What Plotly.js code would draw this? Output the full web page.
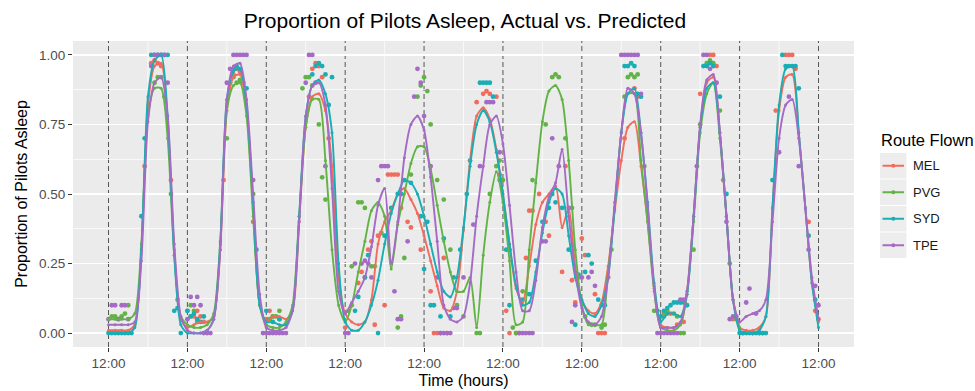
<!DOCTYPE html>
<html>
<head>
<meta charset="utf-8">
<script src="https://cdn.plot.ly/plotly-3.0.1.min.js"></script>
<style>
html,body{margin:0;padding:0;background:#ffffff;}
#chart{width:975px;height:391px;}
</style>
</head>
<body>
<div id="chart"></div>
<script>
// ---------------- DATA ----------------
const routes = ['MEL', 'PVG', 'SYD', 'TPE'];
const routeColors = ['#F06C5E', '#62B346', '#17AEB4', '#A46AC6'];

// predicted values, every 2 hours
const predHours = [0,2,4,6,8,10,12,14,16,18,20,22,24,26,28,30,32,34,36,38,40,42,44,46,
  48,50,52,54,56,58,60,62,64,66,68,70,72,74,76,78,80,82,84,86,88,90,92,94,
  96,98,100,102,104,106,108,110,112,114,116,118,120,122,124,126,128,130,132,134,136,138,140,142,
  144,146,148,150,152,154,156,158,160,162,164,166,168,170,172,174,176,178,180,182,184,186,188,190,
  192,194,196,198,200,202,204,206,208,210,212,214,216];

const predMEL = [
  0.01,0.01,0.01,0.01,0.03,0.3,0.82,0.96,0.97,0.76,0.3,0.05,
  0.02,0.03,0.04,0.04,0.06,0.3,0.8,0.92,0.93,0.8,0.45,0.1,
  0.04,0.06,0.06,0.05,0.08,0.4,0.74,0.85,0.86,0.8,0.6,0.2,
  0.07,0.04,0.03,0.04,0.12,0.32,0.4,0.44,0.5,0.52,0.48,0.43,
  0.35,0.26,0.17,0.09,0.08,0.15,0.37,0.62,0.78,0.81,0.77,0.66,
  0.5,0.32,0.16,0.11,0.24,0.39,0.47,0.5,0.53,0.38,0.45,0.24,
  0.12,0.08,0.07,0.11,0.24,0.44,0.62,0.74,0.76,0.6,0.4,0.17,
  0.03,0.02,0.02,0.03,0.15,0.42,0.74,0.9,0.92,0.72,0.42,0.12,
  0.02,0.01,0.01,0.02,0.06,0.45,0.8,0.92,0.93,0.72,0.45,0.18,
  0.04];

const predPVG = [
  0.05,0.05,0.05,0.05,0.07,0.32,0.78,0.88,0.88,0.7,0.28,0.06,
  0.03,0.02,0.02,0.03,0.07,0.33,0.8,0.89,0.9,0.78,0.42,0.1,
  0.03,0.02,0.02,0.04,0.1,0.42,0.74,0.84,0.84,0.62,0.3,0.1,
  0.04,0.1,0.22,0.33,0.44,0.47,0.42,0.23,0.39,0.5,0.61,0.67,
  0.67,0.59,0.46,0.33,0.22,0.15,0.15,0.2,0.02,0.28,0.47,0.58,
  0.47,0.26,0.03,0.04,0.3,0.54,0.76,0.87,0.89,0.84,0.62,0.3,
  0.1,0.03,0.03,0.03,0.22,0.45,0.72,0.86,0.86,0.62,0.4,0.15,
  0.02,0.01,0.01,0.03,0.14,0.4,0.72,0.86,0.9,0.7,0.42,0.12,
  0.02];

const predSYD = [
  0.0,0.0,0.0,0.0,0.02,0.3,0.85,0.98,1.0,0.78,0.28,0.03,
  0.0,0.0,0.0,0.01,0.05,0.32,0.84,0.94,0.95,0.82,0.47,0.1,
  0.04,0.04,0.03,0.03,0.08,0.42,0.78,0.89,0.91,0.86,0.72,0.25,
  0.04,0.01,0.01,0.04,0.1,0.19,0.32,0.43,0.5,0.55,0.54,0.5,
  0.42,0.32,0.22,0.15,0.13,0.2,0.38,0.6,0.75,0.8,0.76,0.65,
  0.5,0.32,0.17,0.1,0.11,0.22,0.36,0.47,0.52,0.5,0.35,0.2,
  0.12,0.07,0.06,0.1,0.2,0.45,0.72,0.86,0.88,0.72,0.47,0.18,
  0.04,0.07,0.07,0.06,0.14,0.42,0.74,0.88,0.9,0.72,0.42,0.12,
  0.01,0.0,0.0,0.01,0.06,0.45,0.82,0.95,0.96,0.72,0.45,0.18,
  0.02];

const predTPE = [
  0.03,0.03,0.03,0.03,0.04,0.26,0.76,0.9,0.92,0.78,0.32,0.06,
  0.01,0.0,0.0,0.01,0.05,0.3,0.84,0.96,0.97,0.84,0.5,0.14,
  0.02,0.01,0.01,0.02,0.08,0.4,0.78,0.89,0.9,0.82,0.52,0.15,
  0.07,0.11,0.15,0.2,0.31,0.46,0.52,0.25,0.4,0.63,0.75,0.78,
  0.73,0.56,0.33,0.1,0.05,0.04,0.06,0.18,0.42,0.6,0.75,0.78,
  0.68,0.46,0.22,0.08,0.08,0.19,0.38,0.49,0.54,0.66,0.42,0.22,
  0.09,0.04,0.03,0.06,0.2,0.47,0.72,0.88,0.86,0.72,0.46,0.16,
  0.02,0.02,0.02,0.04,0.15,0.42,0.75,0.91,0.93,0.72,0.42,0.12,
  0.04,0.06,0.07,0.08,0.12,0.4,0.7,0.82,0.84,0.7,0.45,0.2,
  0.05];

// actual observations [hour, proportion]
const actMEL = [[11,0.6],[13,0.97],[14,0.98],[15,0.97],[16,0.96],[19,0.55],[21,0.12],
  [25,0.06],[26,0.06],[27,0.08],[28,0.06],[29,0.04],[35,0.55],[38,0.93],[39,0.95],[40,0.94],[41,0.9],[44,0.4],
  [48,0.05],[49,0.08],[50,0.06],[52,0.05],[61,0.85],[62,0.95],[63,0.97],[64,0.96],[65,0.92],[67,0.7],
  [72,0.02],[74,0.1],[76,0.18],[77,0.22],[78,0.2],[79,0.3],[80,0.33],[81,0.03],[82,0.35],[84,0.1],
  [85,0.57],[86,0.57],[87,0.57],[88,0.57],[89,0.45],[91,0.4],[92,0.38],[95,0.3],[98,0.15],[99,0.0],[100,0.0],[101,0.0],[102,0.27],[103,0.0],
  [112,0.83],[114,0.86],[115,0.87],[116,0.86],[118,0.85],[119,0.57],[121,0.08],[122,0.0],[124,0.0],[125,0.0],
  [127,0.27],[128,0.44],[129,0.44],[131,0.5],[133,0.4],[134,0.35],
  [138,0.22],[139,0.6],[141,0.19],[142,0.11],[144,0.34],[145,0.28],[148,0.14],[149,0.0],[150,0.0],[151,0.0],[152,0.2],[157,0.7],[160,0.88],[161,0.85],
  [169,0.07],[170,0.07],[171,0.07],[173,0.03],[175,0.04],[180,0.86],[183,1.0],[184,1.0],[185,0.96],[187,0.55],[190,0.05],
  [193,0.0],[196,0.0],[198,0.0],[199,0.0],[203,0.8],[206,1.0],[207,1.0],[208,1.0],[209,0.95],[213,0.4],[215,0.08],[216,0.05]];

const actPVG = [[1,0.06],[2,0.06],[3,0.05],[4,0.06],[5,0.07],[6,0.1],[14,0.9],[15,0.92],[16,0.92],[17,0.85],[19,0.5],
  [24,0.08],[25,0.1],[26,0.08],[27,0.04],[36,0.7],[38,0.92],[39,0.9],[40,0.91],[44,0.5],
  [49,0.05],[50,0.06],[51,0.06],[52,0.08],[59,0.88],[60,0.92],[61,0.92],[62,0.89],[64,0.75],[65,0.56],[66,0.48],
  [73,0.08],[74,0.24],[76,0.47],[77,0.47],[78,0.45],[80,0.24],[81,0.24],[83,0.36],[88,0.02],[89,0.06],[90,0.27],[92,0.57],
  [94,0.85],[95,0.89],[96,0.92],[97,0.87],[98,0.75],[100,0.55],[102,0.48],[104,0.3],[106,0.1],[108,0.06],
  [112,0.0],[113,0.0],[116,0.5],[118,0.6],[119,0.62],[120,0.55],[123,0.02],[124,0.0],[126,0.15],[129,0.55],[133,0.75],[135,0.92],[136,0.93],[137,0.92],
  [139,0.7],[141,0.45],[143,0.2],[145,0.06],[147,0.03],[148,0.03],[150,0.02],[151,0.03],[153,0.3],[157,0.85],[158,0.92],[159,0.93],[160,0.92],[161,0.93],[163,0.6],
  [166,0.08],[169,0.06],[170,0.08],[172,0.07],[173,0.06],[174,0.0],[175,0.0],
  [178,0.3],[180,0.75],[182,0.97],[183,0.98],[184,0.97],[186,0.8],[189,0.25],[191,0.05]];

const actSYD = [[0,0],[1,0],[2,0],[3,0],[4,0],[5,0],[6,0],[7,0],[10,0.42],[11,0.7],[13,1.0],[14,1.0],[15,1.0],[16,1.0],[17,1.0],[18,1.0],[20,0.08],[21,0.09],[22,0.0],
  [24,0.08],[25,0.06],[26,0.07],[27,0.05],[28,0.04],[29,0.06],[37,0.9],[38,0.95],[39,0.96],[40,0.95],[42,0.88],[45,0.3],
  [48,0.08],[50,0.04],[52,0.05],[62,0.93],[63,0.96],[64,0.97],[65,0.96],[66,0.93],[67,0.82],
  [68,0.92],[75,0.08],[76,0.13],[78,0.2],[79,0.28],[82,0.0],[84,0.35],[86,0.45],[88,0.5],[89,0.5],[90,0.55],[92,0.54],[95,0.42],[96,0.23],[97,0.4],[98,0.1],[99,0.1],
  [101,0.06],[102,0.34],[104,0.06],[105,0.2],[107,0.3],[109,0.5],[110,0.62],[113,0.9],[114,0.9],[115,0.9],[116,0.9],[117,0.85],[119,0.55],[121,0.3],[122,0.1],
  [126,0.12],[128,0.14],[130,0.26],[132,0.4],[134,0.45],[135,0.5],[136,0.47],
  [138,0.45],[140,0.3],[142,0.03],[143,0.21],[145,0.22],[146,0.28],[147,0.25],[149,0.12],[151,0.1],[157,0.96],[158,0.96],[159,0.97],[160,0.96],[161,0.86],[162,0.85],
  [167,0.08],[168,0.06],[169,0.08],[170,0.09],[171,0.1],[172,0.11],[173,0.11],[174,0.11],[175,0.11],[176,0.1],
  [181,0.96],[182,0.96],[183,0.97],[184,0.96],[186,0.85],[188,0.5],
  [192,0.0],[193,0.0],[194,0.0],[195,0.0],[196,0.0],[197,0.0],[198,0.0],[199,0.0],[200,0.0],
  [202,0.55],[205,1.0],[206,0.96],[207,0.96],[208,0.96],[209,0.96],[210,0.88],[213,0.35],[215,0.12]];

const actTPE = [[0,0.05],[1,0.1],[2,0.1],[3,0.05],[4,0.1],[5,0.1],[6,0.05],[13,0.96],[14,1.0],[15,1.0],[16,1.0],[17,1.0],[18,0.9],
  [24,0.05],[25,0.13],[26,0.1],[27,0.13],[28,0.1],[29,0.0],[30,0.0],[31,0.0],
  [36,0.9],[37,0.95],[38,1.0],[39,1.0],[40,1.0],[41,1.0],[42,1.0],[44,0.55],
  [47,0.0],[48,0.0],[49,0.0],[50,0.0],[51,0.0],[52,0.0],[53,0.0],[54,0.0],[60,0.9],[61,1.0],[62,1.0],[63,0.9],[66,0.6],
  [72,0.0],[73,0.0],[75,0.25],[77,0.25],[78,0.26],[79,0.25],[80,0.2],[82,0.55],[83,0.6],[84,0.6],[85,0.6],[87,0.15],[88,0.05],[89,0.05],
  [91,0.33],[93,0.85],[94,0.95],[95,0.9],[96,0.78],[98,0.6],[100,0.2],[101,0.0],[102,0.0],[103,0.0],[104,0.0],[105,0.09],[106,0.09],
  [108,0.2],[111,0.39],[113,0.6],[115,0.83],[116,0.83],[117,0.83],[119,0.65],[122,0.3],[125,0.0],[126,0.0],[127,0.0],[128,0.0],[129,0.0],
  [132,0.33],[133,0.33],[135,0.7],[137,0.6],
  [140,0.45],[141,0.04],[142,0.1],[144,0.2],[146,0.2],[147,0.22],[148,0.17],[150,0.1],[156,1.0],[157,1.0],[158,1.0],[159,1.0],[160,1.0],[161,1.0],[162,0.86],
  [167,0.0],[168,0.0],[169,0.0],[170,0.0],[171,0.0],[172,0.0],[173,0.0],[174,0.12],[175,0.12],
  [179,0.6],[181,1.0],[182,1.0],[183,0.95],[185,0.9],[188,0.4],
  [189,0.05],[190,0.06],[191,0.06],[194,0.11],[195,0.16],[197,0.07],
  [204,0.65],[207,0.85],[210,0.6],[213,0.3],[215,0.17],[216,0.1]];

const tickHours = [0,24,48,72,96,120,144,168,192,216];
const tickText = ['12:00','12:00','12:00','12:00','12:00','12:00','12:00','12:00','12:00','12:00'];
const midnightHours = [12,36,60,84,108,132,156,180,204];
const yTicks = [0,0.25,0.5,0.75,1];
const yTickText = ['0.00','0.25','0.50','0.75','1.00'];
const yMinor = [0.125,0.375,0.625,0.875];

// ---------------- CHART ----------------
const FONT = 'Liberation Sans, Arial, Helvetica, sans-serif';
const M = {l:73, r:121, t:41, b:44};
const W = 975, H = 391;
const PW = W - M.l - M.r, PH = H - M.t - M.b;
const px2x = px => (px - M.l) / PW;
const py2y = py => (H - M.b - py) / PH;

const preds = [predMEL, predPVG, predSYD, predTPE];
const acts = [actMEL, actPVG, actSYD, actTPE];

const traces = [];
routes.forEach((r, i) => {
  traces.push({
    type: 'scatter', mode: 'markers', name: r + ' actual', showlegend: false,
    x: acts[i].map(p => p[0]), y: acts[i].map(p => p[1]),
    marker: {color: routeColors[i], size: 4.8, line: {width: 0}},
    hoverinfo: 'skip'
  });
});
routes.forEach((r, i) => {
  traces.push({
    type: 'scatter', mode: 'lines+markers', name: r, showlegend: false,
    x: predHours.slice(0, preds[i].length), y: preds[i],
    line: {color: routeColors[i], width: 1.9, shape: 'spline', smoothing: 0.7},
    marker: {color: routeColors[i], size: 3},
    hoverinfo: 'skip'
  });
});

const shapes = [];
midnightHours.forEach(h => shapes.push({
  type: 'line', xref: 'x', yref: 'paper', x0: h, x1: h, y0: 0, y1: 1,
  layer: 'below', line: {color: '#ffffff', width: 0.7}
}));
tickHours.forEach(h => shapes.push({
  type: 'line', xref: 'x', yref: 'paper', x0: h, x1: h, y0: 0, y1: 1,
  layer: 'between', line: {color: '#555555', width: 1, dash: '5px,3px'}
}));

// legend (ggplot style)
const annotations = [];
annotations.push({
  xref: 'paper', yref: 'paper', x: px2x(879), y: py2y(140), xanchor: 'left', yanchor: 'middle',
  text: 'Route Flown', showarrow: false, font: {family: FONT, size: 16.5, color: '#000'}
});
routes.forEach((r, i) => {
  const top = 153 + i * 26.5, bot = top + 25.5, cy = top + 12.75;
  shapes.push({type: 'rect', xref: 'paper', yref: 'paper', x0: px2x(880), x1: px2x(906.5),
    y0: py2y(bot), y1: py2y(top), fillcolor: '#EDEDED', line: {width: 0}, layer: 'above'});
  shapes.push({type: 'line', xref: 'paper', yref: 'paper', x0: px2x(882.5), x1: px2x(904),
    y0: py2y(cy), y1: py2y(cy), line: {color: routeColors[i], width: 2}, layer: 'above'});
  shapes.push({type: 'circle', xref: 'paper', yref: 'paper', x0: px2x(891.3), x1: px2x(895.3),
    y0: py2y(cy + 2), y1: py2y(cy - 2), fillcolor: routeColors[i], line: {width: 0}, layer: 'above'});
  annotations.push({
    xref: 'paper', yref: 'paper', x: px2x(910.5), y: py2y(cy), xanchor: 'left', yanchor: 'middle',
    text: r, showarrow: false, font: {family: FONT, size: 13, color: '#1A1A1A'}
  });
});

const layout = {
  width: W, height: H,
  margin: M,
  paper_bgcolor: '#ffffff', plot_bgcolor: '#EBEBEB',
  font: {family: FONT, color: '#000'},
  showlegend: false,
  title: {text: 'Proportion of Pilots Asleep, Actual vs. Predicted', font: {family: FONT, size: 21, color: '#000'},
    x: px2x(465), xref: 'paper', xanchor: 'center', y: 1 - 21 / H, yref: 'container', yanchor: 'middle'},
  xaxis: {
    range: [-10.8, 226.8], tickmode: 'array', tickvals: tickHours, ticktext: tickText,
    ticks: 'outside', ticklen: 4, tickwidth: 1, tickcolor: '#333333',
    showgrid: false, zeroline: false, showline: false,
    tickfont: {family: FONT, size: 13.5, color: '#4D4D4D'},
    title: {text: 'Time (hours)', font: {family: FONT, size: 16, color: '#000'}, standoff: 4}
  },
  yaxis: {
    range: [-0.05, 1.05], tickmode: 'array', tickvals: yTicks, ticktext: yTickText,
    ticks: 'outside', ticklen: 4, tickwidth: 1, tickcolor: '#333333',
    showgrid: true, gridcolor: '#ffffff', gridwidth: 1.2, zeroline: false, showline: false,
    minor: {tickvals: yMinor, showgrid: true, gridcolor: '#ffffff', gridwidth: 0.7, ticks: ''},
    tickfont: {family: FONT, size: 13.5, color: '#4D4D4D'},
    title: {text: 'Proportion of Pilots Asleep', font: {family: FONT, size: 16, color: '#000'}, standoff: 7}
  },
  shapes: shapes,
  annotations: annotations
};

Plotly.newPlot('chart', traces, layout, {staticPlot: true, displayModeBar: false});
</script>
</body>
</html>
